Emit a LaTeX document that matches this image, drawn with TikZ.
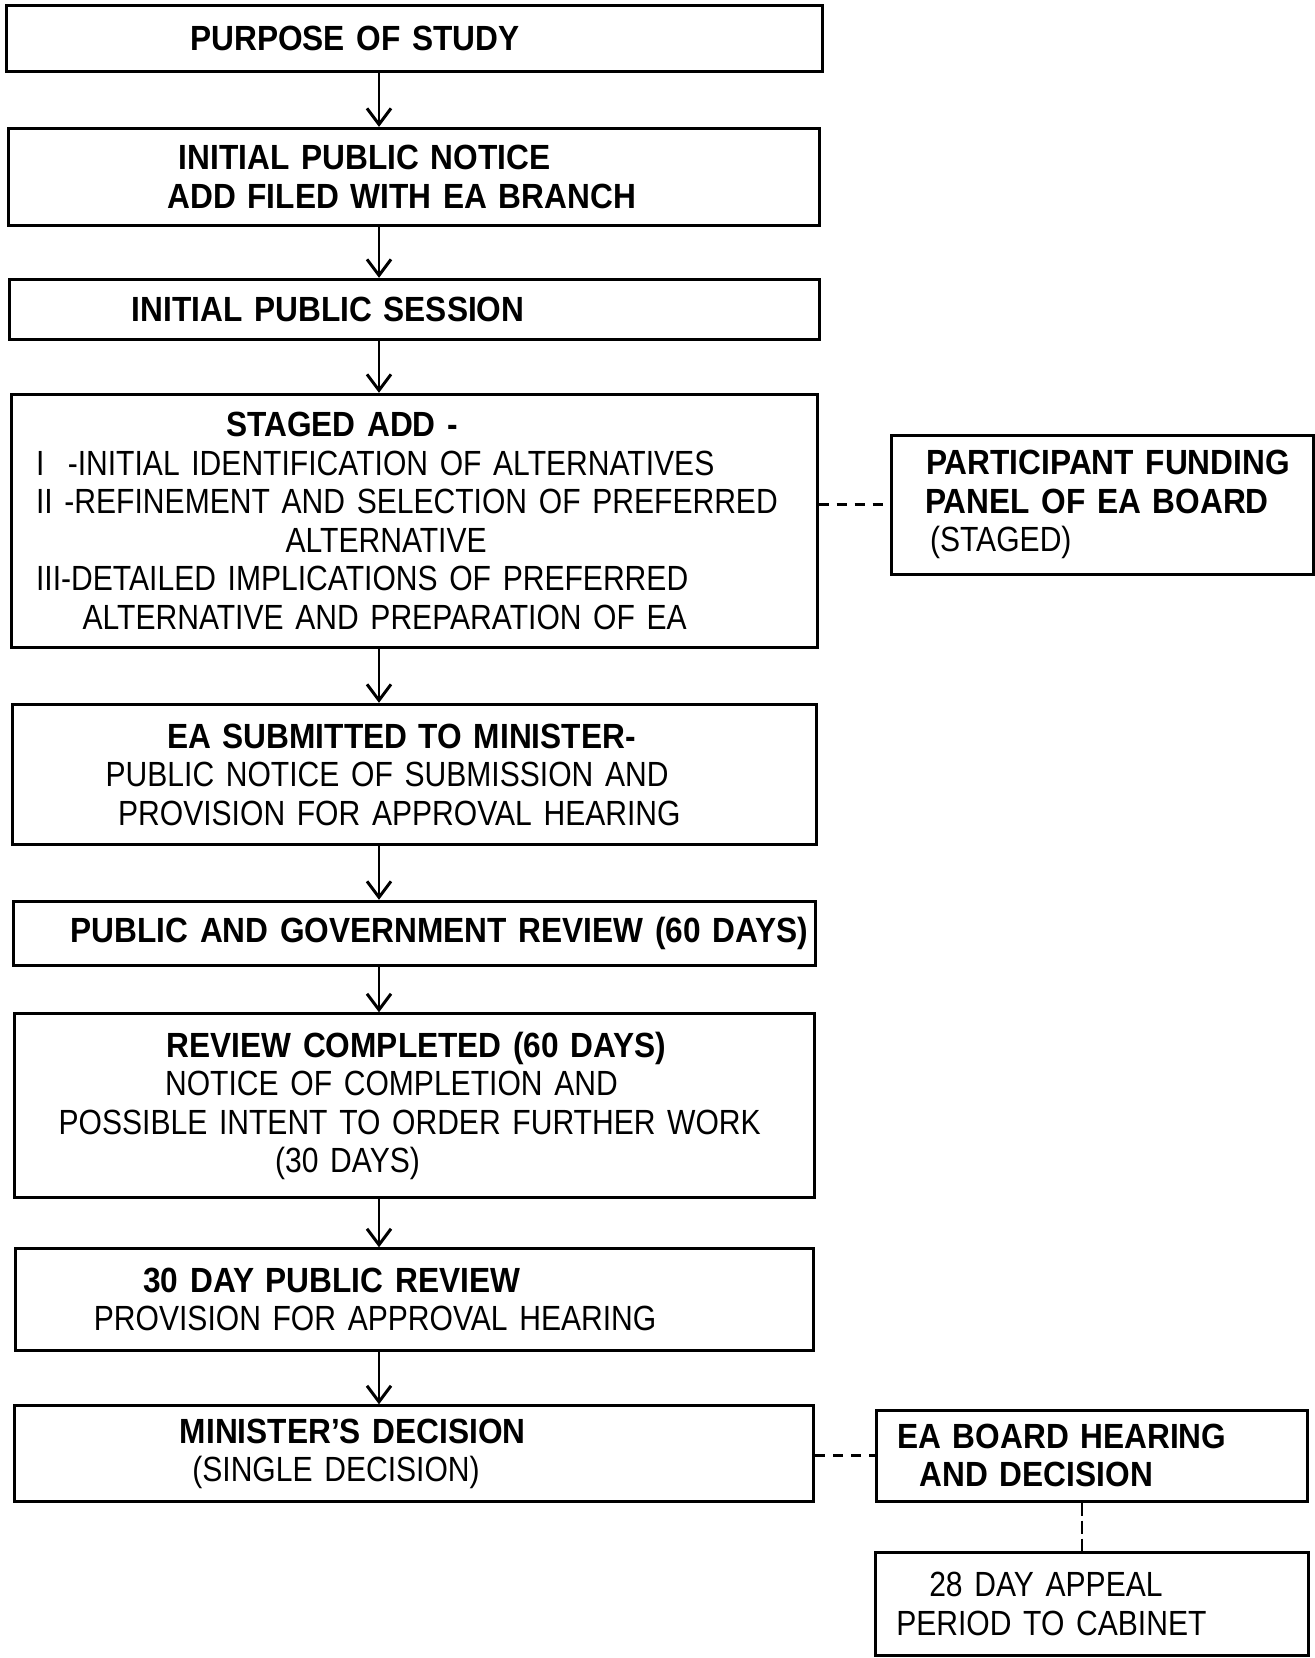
\documentclass[tikz,border=0pt]{standalone}
\usepackage{fontspec}
\setmainfont[FakeStretch=0.86,WordSpace=1.5,BoldFeatures={FakeStretch=0.905}]{Liberation Sans}
\usetikzlibrary{arrows.meta,positioning}

\begin{document}
\begin{tikzpicture}[node distance=1.05cm,>={Straight Barb[length=0.32cm,width=0.48cm]},
  box/.style={draw,line width=1.7pt,inner xsep=0pt,inner ysep=2pt,align=left,
  font=\fontsize{19.9pt}{21.9pt}\selectfont},
  link/.style={line width=1.6pt,dash pattern=on 0.2cm off 0.16cm}]
\useasboundingbox (0,0) rectangle (26.3,-33.16);
\node[box,text width=16.32cm,minimum height=1.33cm] (purpose) at (8.287,-0.772)
  {\hspace*{3.68cm}\textbf{PURPOSE OF STUDY}};
\node[box,below=1.07cm of purpose,text width=16.22cm,minimum height=1.95cm] (notice)
  {\hspace*{3.40cm}\textbf{INITIAL PUBLIC NOTICE}\\
   \hspace*{3.17cm}\textbf{ADD FILED WITH EA BRANCH}};
\node[box,below=1.01cm of notice,text width=16.20cm,minimum height=1.21cm] (session)
  {\hspace*{2.45cm}\textbf{INITIAL PUBLIC SESSION}};
\node[box,below=1.03cm of session,text width=16.11cm,minimum height=5.07cm] (staged)
  {\hspace*{4.29cm}\textbf{STAGED ADD -}\\
   \hspace*{0.49cm}I\ \ -INITIAL IDENTIFICATION OF ALTERNATIVES\\
   \hspace*{0.49cm}II -REFINEMENT AND SELECTION OF PREFERRED\\
   \hspace*{5.48cm}ALTERNATIVE\\
   \hspace*{0.49cm}III-DETAILED IMPLICATIONS OF PREFERRED\\
   \hspace*{1.42cm}ALTERNATIVE AND PREPARATION OF EA};
\node[box,below=1.07cm of staged,text width=16.07cm,minimum height=2.81cm] (submitted)
  {\hspace*{3.09cm}\textbf{EA SUBMITTED TO MINISTER-}\\
   \hspace*{1.86cm}PUBLIC NOTICE OF SUBMISSION AND\\
   \hspace*{2.11cm}PROVISION FOR APPROVAL HEARING};
\node[box,below=1.07cm of submitted,text width=16.03cm,minimum height=1.29cm] (review60)
  {\hspace*{1.14cm}\textbf{PUBLIC AND GOVERNMENT REVIEW (60 DAYS)}};
\node[box,below=0.90cm of review60,text width=16.01cm,minimum height=3.68cm] (completed)
  {\hspace*{3.05cm}\textbf{REVIEW COMPLETED (60 DAYS)}\\
   \hspace*{3.02cm}NOTICE OF COMPLETION AND\\
   \hspace*{0.89cm}POSSIBLE INTENT TO ORDER FURTHER WORK\\
   \hspace*{5.22cm}(30 DAYS)};
\node[box,below=0.96cm of completed,text width=15.96cm,minimum height=2.03cm] (review30)
  {\hspace*{2.56cm}\textbf{30 DAY PUBLIC REVIEW}\\
   \hspace*{1.57cm}PROVISION FOR APPROVAL HEARING};
\node[box,below=1.05cm of review30,text width=15.98cm,minimum height=1.92cm] (decision)
  {\hspace*{3.30cm}\textbf{MINISTER'S DECISION}\\
   \hspace*{3.55cm}(SINGLE DECISION)};
% side boxes
\node[box,text width=8.44cm,minimum height=2.77cm] (funding) at (22.04,-10.095)
  {\hspace*{0.70cm}\textbf{PARTICIPANT FUNDING}\\
   \hspace*{0.68cm}\textbf{PANEL OF EA BOARD}\\
   \hspace*{0.78cm}(STAGED)};
\node[box,text width=8.63cm,minimum height=1.82cm] (hearing) at (21.84,-29.113)
  {\hspace*{0.42cm}\textbf{EA BOARD HEARING}\\
   \hspace*{0.87cm}\textbf{AND DECISION}};
\node[box,below=0.97cm of hearing,text width=8.67cm,minimum height=2.06cm] (appeal)
  {\hspace*{1.08cm}28 DAY APPEAL\\
   \hspace*{0.42cm}PERIOD TO CABINET};
\coordinate (spine) at (7.58,0);
\foreach \a/\b in {purpose/notice,notice/session,session/staged,staged/submitted,
  submitted/review60,review60/completed,completed/review30,review30/decision}
  \draw[->,line width=1.7pt] (\a.south -| spine) -- (\b.north -| spine);
\draw[link] (staged.east |- funding.west) -- (funding.west);
\draw[link] (decision.east |- hearing.west) -- (hearing.west);
\draw[link,dash pattern=on 0.26cm off 0.1cm] ([xshift=-0.2cm]hearing.south) -- ([xshift=-0.2cm]appeal.north);
\end{tikzpicture}
\end{document}
